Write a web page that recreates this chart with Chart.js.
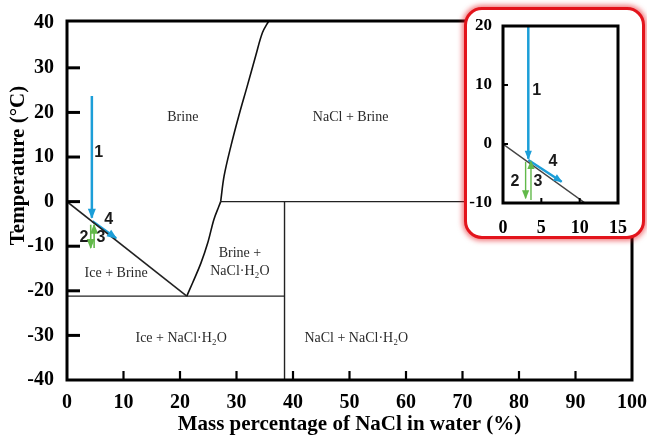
<!DOCTYPE html>
<html><head><meta charset="utf-8">
<script src="https://cdn.jsdelivr.net/npm/chart.js@4.4.0/dist/chart.umd.min.js"></script>
<style>
html,body{margin:0;padding:0;background:#fff;}
#wrap{position:relative;width:647px;height:441px;overflow:hidden;}
#main{position:absolute;left:0;top:0;}
#insetBox{position:absolute;left:464px;top:7px;width:175px;height:226px;border:3px solid #e3141c;border-radius:18px;box-shadow:0 0 5px 2px rgba(230,20,28,0.55);background:#fff;overflow:hidden;}
#inset{position:absolute;left:0;top:0;}
</style></head>
<body><div id="wrap"><canvas id="main" width="647" height="441"></canvas><div id="insetBox"><canvas id="inset" width="175" height="226"></canvas></div></div>
<script>
// ---------- data: main diagram ----------
const xTickValues = [0,10,20,30,40,50,60,70,80,90,100];
const yTickValues = [-40,-30,-20,-10,0,10,20,30,40];
const liquidusX = [0, 21.2];
const liquidusT = [0, -21.2];
const hydrateCurveX = [21.2, 22.2, 23.7, 24.9, 26.0, 26.9, 27.2];
const hydrateCurveT = [-21.2, -18.3, -13.8, -9.3, -4.0, -1.0, 0];
const saltCurveX = [27.2, 27.8, 29.0, 30.4, 31.9, 33.4, 34.6, 35.7];
const saltCurveT = [0, 5.7, 12.4, 19.2, 25.9, 32.7, 37.9, 40.5];
const eutecticX = [0, 38.5];
const eutecticT = [-21.2, -21.2];
const peritecticX = [27.2, 100];
const peritecticT = [0, 0];
const hydrateX = [38.5, 38.5];
const hydrateT = [-40, 0];
const path1X = [4.4, 4.4];   const path1T = [23.7, -3.6];
const path2X = [4.2, 4.2];   const path2T = [-5.2, -10.4];
const path3X = [4.8, 4.8];   const path3T = [-10.4, -5.2];
const path4X = [4.5, 8.7];   const path4T = [-4.4, -8.2];
const regionText = ['Brine', 'NaCl + Brine', 'Ice + Brine', 'Brine +', 'NaCl\u00B7H\u2082O', 'Ice + NaCl\u00B7H\u2082O', 'NaCl + NaCl\u00B7H\u2082O'];
const regionX = [20.5, 50.2, 8.7, 30.6, 30.6, 20.2, 51.2];
const regionT = [18.9, 18.9, -16.0, -11.5, -15.6, -30.6, -30.6];
const stepText = ['1', '2', '3', '4'];
const stepX = [5.6, 3.0, 6.0, 7.4];
const stepT = [11.0, -8.1, -8.1, -4.0];

// ---------- data: inset ----------
const insetXTicks = [0,5,10,15];
const insetYTicks = [-10,0,10,20];
const insetLiqX = [0, 10.7];
const insetLiqT = [0, -10];
const inPath1X = [3.3, 3.3];   const inPath1T = [20, -2.5];
const inPath2X = [2.95, 2.95]; const inPath2T = [-3.0, -9.2];
const inPath3X = [3.65, 3.65]; const inPath3T = [-9.5, -2.9];
const inPath4X = [3.3, 7.65];  const inPath4T = [-2.7, -6.4];
const inStepX = [4.4, 1.55, 4.55, 6.5];
const inStepT = [9.0, -6.4, -6.4, -2.9];

const BLUE = '#1c9ed8', GREEN = '#62b94a';
const pts = (xs, ys) => xs.map((x, i) => ({x: x, y: ys[i]}));
function line(xs, ys, color, w, extra) {
  return Object.assign({data: pts(xs, ys), borderColor: color, backgroundColor: color, borderWidth: w,
    showLine: true, pointRadius: 0, pointHoverRadius: 0, fill: false, tension: 0}, extra || {});
}

const decor = {
  id: 'decor',
  afterDatasetsDraw(chart, args, o) {
    const ctx = chart.ctx, ca = chart.chartArea, xs = chart.scales.x, ys = chart.scales.y;
    ctx.save();
    chart.data.datasets.forEach((ds, i) => {
      if (!ds.arrow) return;
      const p = chart.getDatasetMeta(i).data;
      const a = p[p.length - 2], b = p[p.length - 1];
      const ang = Math.atan2(b.y - a.y, b.x - a.x);
      const L = o.head, W = o.head * 0.45;
      const bx = b.x - L * Math.cos(ang), by = b.y - L * Math.sin(ang);
      ctx.fillStyle = ds.borderColor;
      ctx.beginPath();
      ctx.moveTo(b.x + Math.cos(ang), b.y + Math.sin(ang));
      ctx.lineTo(bx + W * Math.sin(ang), by - W * Math.cos(ang));
      ctx.lineTo(bx - W * Math.sin(ang), by + W * Math.cos(ang));
      ctx.closePath(); ctx.fill();
    });
    ctx.textAlign = 'center'; ctx.textBaseline = 'middle';
    (o.texts || []).forEach(t => {
      ctx.font = t.font; ctx.fillStyle = t.color;
      t.text.forEach((s, k) => ctx.fillText(s, xs.getPixelForValue(t.x[k]), ys.getPixelForValue(t.y[k])));
    });
    ctx.strokeStyle = '#000';
    ctx.lineWidth = o.yTickW;
    o.yTicks.forEach(v => { const p = ys.getPixelForValue(v); ctx.beginPath(); ctx.moveTo(ca.left, p); ctx.lineTo(ca.left + o.yTickLen, p); ctx.stroke(); });
    ctx.lineWidth = o.xTickW;
    o.xTicks.forEach(v => { const p = xs.getPixelForValue(v); ctx.beginPath(); ctx.moveTo(p, ca.bottom); ctx.lineTo(p, ca.bottom - o.xTickLen); ctx.stroke(); });
    ctx.lineWidth = o.frame;
    ctx.strokeRect(ca.left, ca.top, ca.right - ca.left, ca.bottom - ca.top);
    if (o.yTitle) {
      ctx.font = o.yTitle.font; ctx.fillStyle = '#000';
      ctx.translate(ca.left - o.yTitle.dx, (ca.top + ca.bottom) / 2 - o.yTitle.dy);
      ctx.rotate(-Math.PI / 2);
      ctx.fillText(o.yTitle.text, 0, 0);
    }
    ctx.restore();
  }
};

Chart.defaults.font.family = "'Liberation Serif', 'Times New Roman', serif";
Chart.defaults.color = '#000';
const noSidePad = s => { s.paddingLeft = 0; s.paddingRight = 0; };

new Chart(document.getElementById('main'), {
  type: 'scatter',
  data: { datasets: [
    line(liquidusX, liquidusT, '#222', 1.6),
    line(hydrateCurveX, hydrateCurveT, '#111', 1.6, {tension: 0.35}),
    line(saltCurveX, saltCurveT, '#111', 1.6, {tension: 0.35}),
    line(eutecticX, eutecticT, '#222', 1.4),
    line(peritecticX, peritecticT, '#222', 1.4),
    line(hydrateX, hydrateT, '#222', 1.4),
    line(path1X, path1T, BLUE, 2.5, {arrow: true}),
    line(path4X, path4T, BLUE, 2.5, {arrow: true}),
    line(path2X, path2T, GREEN, 1.6, {arrow: true}),
    line(path3X, path3T, GREEN, 1.6, {arrow: true})
  ]},
  options: {
    responsive: false, animation: false, events: [],
    layout: { padding: { top: 21, right: 15, left: 0, bottom: 0 } },
    plugins: {
      legend: { display: false }, tooltip: { enabled: false },
      decor: {
        head: 9, frame: 3, yTickLen: 13, yTickW: 3, xTickLen: 9, xTickW: 2.2,
        yTicks: yTickValues.slice(1, -1), xTicks: xTickValues.slice(1, -1),
        texts: [
          { text: regionText, x: regionX, y: regionT, font: "14px 'Liberation Serif'", color: '#2a2a2a' },
          { text: stepText, x: stepX, y: stepT, font: "bold 16px 'Liberation Sans'", color: '#1a1a1a' }
        ],
        yTitle: { text: 'Temperature (\u00B0C)', font: "bold 21px 'Liberation Serif'", dx: 48, dy: 35 }
      }
    },
    scales: {
      x: {
        type: 'linear', min: 0, max: 100,
        afterBuildTicks: s => { s.ticks = xTickValues.map(v => ({value: v})); },
        afterFit: s => { s.height = 61; noSidePad(s); },
        grid: { display: false }, border: { display: false },
        ticks: { font: { size: 20, weight: 'bold' }, padding: 3, maxRotation: 0, autoSkip: false },
        title: { display: true, text: 'Mass percentage of NaCl in water (%)', font: { size: 21, weight: 'bold' }, padding: { top: 0, bottom: 4 } }
      },
      y: {
        type: 'linear', min: -40, max: 40.5,
        afterBuildTicks: s => { s.ticks = yTickValues.map(v => ({value: v})); },
        afterFit: s => { s.width = 67; },
        grid: { display: false }, border: { display: false },
        ticks: { font: { size: 20, weight: 'bold' }, padding: 5, autoSkip: false }
      }
    }
  },
  plugins: [decor]
});

new Chart(document.getElementById('inset'), {
  type: 'scatter',
  data: { datasets: [
    line(insetLiqX, insetLiqT, '#444', 1.5),
    line(inPath1X, inPath1T, BLUE, 2.5, {arrow: true}),
    line(inPath4X, inPath4T, BLUE, 2.5, {arrow: true}),
    line(inPath2X, inPath2T, GREEN, 1.4, {arrow: true}),
    line(inPath3X, inPath3T, GREEN, 1.4, {arrow: true})
  ]},
  options: {
    responsive: false, animation: false, events: [],
    layout: { padding: { top: 16, right: 24, left: 0, bottom: 0 } },
    plugins: {
      legend: { display: false }, tooltip: { enabled: false },
      decor: {
        head: 8, frame: 3, yTickLen: 5, yTickW: 2, xTickLen: 5, xTickW: 2,
        yTicks: insetYTicks.slice(1, -1), xTicks: insetXTicks.slice(1, -1),
        texts: [
          { text: stepText, x: inStepX, y: inStepT, font: "bold 16px 'Liberation Sans'", color: '#1a1a1a' }
        ]
      }
    },
    scales: {
      x: {
        type: 'linear', min: 0, max: 15,
        afterBuildTicks: s => { s.ticks = insetXTicks.map(v => ({value: v})); },
        afterFit: s => { s.height = 33; noSidePad(s); },
        grid: { display: false }, border: { display: false },
        ticks: { font: { size: 18, weight: 'bold' }, padding: 7, maxRotation: 0, autoSkip: false }
      },
      y: {
        type: 'linear', min: -10, max: 20,
        afterBuildTicks: s => { s.ticks = insetYTicks.map(v => ({value: v})); },
        afterFit: s => { s.width = 36; },
        grid: { display: false }, border: { display: false },
        ticks: { font: { size: 17, weight: 'bold' }, padding: 3, autoSkip: false }
      }
    }
  },
  plugins: [decor]
});
</script>
</body></html>
